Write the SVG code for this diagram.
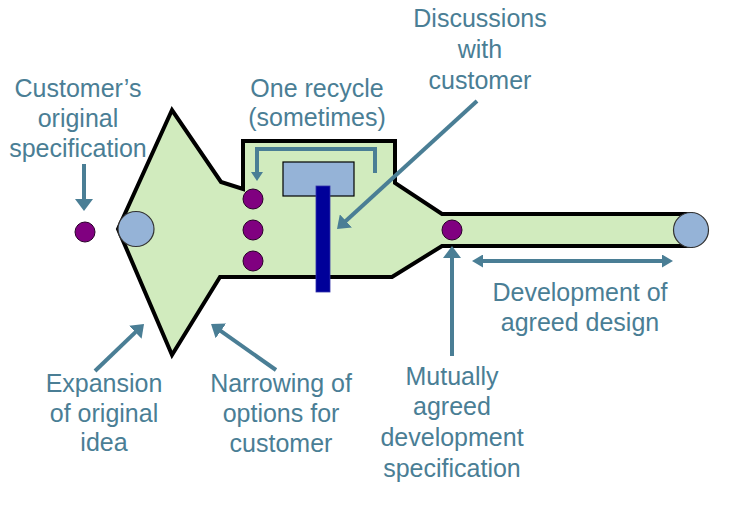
<svg xmlns="http://www.w3.org/2000/svg" width="740" height="522" viewBox="0 0 740 522">
<defs>
<style>
.lbl{font-family:"Liberation Sans",Arial,sans-serif;font-size:25px;fill:#4A7E95;text-anchor:middle}
.arr{stroke:#4A7E95;stroke-width:4;fill:none}
.dot{fill:#800080;stroke:#2a002a;stroke-width:1}
.cap{fill:#95B3D7;stroke:#333;stroke-width:1.2}
</style>
<marker id="ah" markerUnits="userSpaceOnUse" markerWidth="12" markerHeight="18" viewBox="0 0 12 18" refX="2" refY="9" orient="auto"><path d="M0,0 L12,9 L0,18 z" fill="#4A7E95"/></marker>
<marker id="ahm" markerUnits="userSpaceOnUse" markerWidth="11" markerHeight="13" viewBox="0 0 11 13" refX="2" refY="6.5" orient="auto-start-reverse"><path d="M0,0 L11,6.5 L0,13 z" fill="#4A7E95"/></marker>
<marker id="ahs" markerUnits="userSpaceOnUse" markerWidth="9" markerHeight="12" viewBox="0 0 9 12" refX="2" refY="6" orient="auto"><path d="M0,0 L9,6 L0,12 z" fill="#4A7E95"/></marker>
</defs>
<rect width="740" height="522" fill="#fff"/>

<g id="funnel">
<polygon points="118,229 172,110 221,182 243,189 243,141 395,141 395,183 442,214 691,214 691,246 442,246 392,277 220,277 172,355" fill="#D1EBBE" stroke="#000" stroke-width="4" stroke-linejoin="miter"/>
</g>
<g id="start-cap"><ellipse class="cap" cx="136" cy="229" rx="18" ry="17.5"/></g>
<g id="end-cap"><circle class="cap" cx="691" cy="230" r="17.5"/></g>
<g id="box"><rect x="283" y="162" width="71" height="34" fill="#95B3D7" stroke="#000" stroke-width="1.2"/></g>
<g id="bar"><rect x="316" y="186" width="14" height="106" fill="#000099" stroke="#3333aa" stroke-width="0.8"/></g>
<g id="dot-start"><circle class="dot" cx="85" cy="232" r="10"/></g>
<g id="dot-1"><circle class="dot" cx="253" cy="199" r="10"/></g>
<g id="dot-2"><circle class="dot" cx="253" cy="230" r="10"/></g>
<g id="dot-3"><circle class="dot" cx="253" cy="261" r="10"/></g>
<g id="dot-spec"><circle class="dot" cx="452" cy="230" r="10"/></g>

<g id="connectors">
<line class="arr" x1="84" y1="164" x2="84" y2="201" marker-end="url(#ah)"/>
<line class="arr" x1="95" y1="371" x2="136.8" y2="330.9" marker-end="url(#ah)"/>
<line class="arr" x1="276" y1="370" x2="219.2" y2="329.8" marker-end="url(#ah)"/>
<line class="arr" x1="477" y1="101" x2="344.4" y2="222.3" marker-end="url(#ah)"/>
<line class="arr" x1="452" y1="356" x2="452" y2="256" marker-end="url(#ah)"/>
<line class="arr" stroke-width="3" x1="481" y1="261" x2="664" y2="261" marker-start="url(#ahm)" marker-end="url(#ahm)"/>
<path class="arr" stroke-width="3" d="M375,173 V149 H257 V174" marker-end="url(#ahs)"/>
</g>

<g id="label-customer-spec"><text class="lbl"><tspan x="78" y="97">Customer’s</tspan><tspan x="78" y="127">original</tspan><tspan x="78" y="157">specification</tspan></text></g>
<g id="label-expansion"><text class="lbl"><tspan x="104" y="392">Expansion</tspan><tspan x="104" y="422">of original</tspan><tspan x="104" y="451">idea</tspan></text></g>
<g id="label-narrowing"><text class="lbl"><tspan x="281" y="392">Narrowing of</tspan><tspan x="281" y="422">options for</tspan><tspan x="281" y="452">customer</tspan></text></g>
<g id="label-recycle"><text class="lbl"><tspan x="317" y="97">One recycle</tspan><tspan x="317" y="126">(sometimes)</tspan></text></g>
<g id="label-discussions"><text class="lbl"><tspan x="480" y="27">Discussions</tspan><tspan x="480" y="58">with</tspan><tspan x="480" y="89">customer</tspan></text></g>
<g id="label-mutual"><text class="lbl"><tspan x="452" y="385">Mutually</tspan><tspan x="452" y="415">agreed</tspan><tspan x="452" y="446">development</tspan><tspan x="452" y="477">specification</tspan></text></g>
<g id="label-development"><text class="lbl"><tspan x="580" y="301">Development of</tspan><tspan x="580" y="331">agreed design</tspan></text></g>
</svg>
